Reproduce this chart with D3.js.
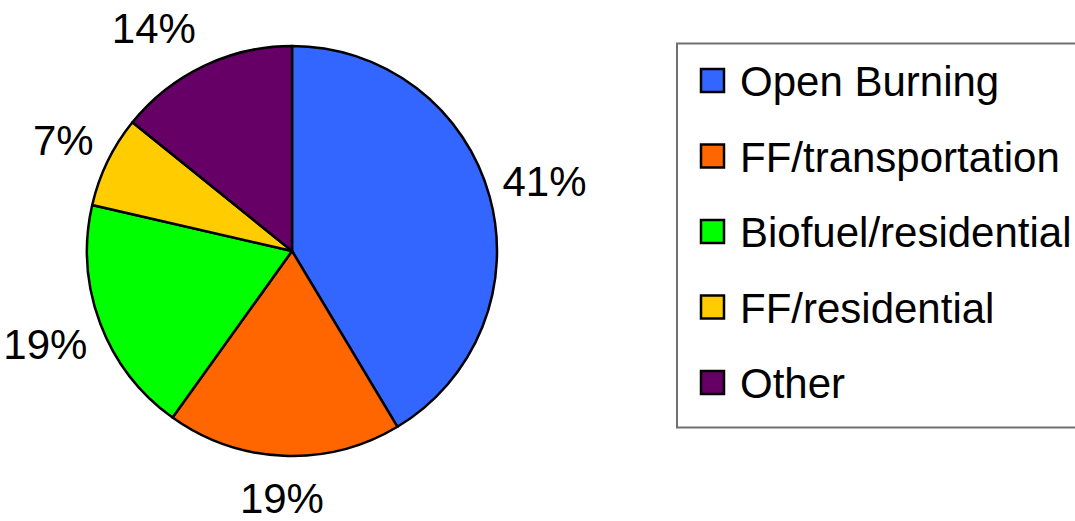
<!DOCTYPE html>
<html>
<head>
<meta charset="utf-8">
<script src="https://cdn.jsdelivr.net/npm/d3@7"></script>
<style>
  body { margin: 0; background: #fff; }
  svg { display: block; font-family: "Liberation Sans", Arial, sans-serif; }
</style>
</head>
<body>
<svg width="1075" height="521"></svg>
<script>
// sector shares (percent)
var categories = ["Open Burning", "FF/transportation", "Biofuel/residential", "FF/residential", "Other"];
var values = [41.4, 18.5, 18.7, 7.2, 14.2];
var labels = ["41%", "19%", "19%", "7%", "14%"];
var colors = ["#3366FF", "#FF6600", "#00FF00", "#FFCC00", "#660066"];

var cx = 292, cy = 251, radius = 205;
var fontSize = 42;
var svg = d3.select("svg");

var pie = d3.pie().sort(null).value(function(d){ return d; });
var arcs = pie(values);
var arc = d3.arc().innerRadius(0).outerRadius(radius);

var g = svg.append("g").attr("transform", "translate(" + cx + "," + cy + ")");

g.selectAll("path")
	.data(arcs)
	.enter().append("path")
	.attr("d", arc)
	.attr("fill", function(d, i){ return colors[i]; })
	.attr("stroke", "#000")
	.attr("stroke-width", 2.5)
	.attr("stroke-linejoin", "round");

// labels sit outside the slice, pushed out by half their box in that direction
var labelR = 213;
var boxHalfH = 32;
var minTop = 28 - cy; // keep labels inside the top of the chart area

function labelDist(a, w){
	return labelR + (w / 2) * Math.abs(Math.sin(a)) + boxHalfH * Math.abs(Math.cos(a));
}

var texts = g.selectAll("text")
	.data(arcs)
	.enter().append("text")
	.attr("text-anchor", "middle")
	.attr("dy", "0.36em")
	.attr("font-size", fontSize)
	.text(function(d, i){ return labels[i]; });

texts.each(function(d){
	var a = (d.startAngle + d.endAngle) / 2;
	var w = this.getComputedTextLength();
	var dist = labelDist(a, w);
	var x = dist * Math.sin(a), y = -dist * Math.cos(a);
	if (y < minTop) {
		// slide the label round the pie until it fits under the top edge
		for (var k = 0; k < 4; k++) {
			var c = Math.min(1, -minTop / dist);
			a = (Math.sin(a) < 0 ? -1 : 1) * Math.acos(c);
			dist = labelDist(a, w);
		}
		x = dist * Math.sin(a);
		y = minTop;
	}
	d3.select(this).attr("x", x).attr("y", y);
});

// legend
var legend = svg.append("g");
legend.append("rect")
	.attr("x", 677)
	.attr("y", 43.5)
	.attr("width", 420)
	.attr("height", 384)
	.attr("fill", "#fff")
	.attr("stroke", "#707070")
	.attr("stroke-width", 2);

var rowY = d3.scalePoint().domain(categories).range([81, 383]);

var rows = legend.selectAll("g.row")
	.data(categories)
	.enter().append("g")
	.attr("class", "row")
	.attr("transform", function(d){ return "translate(0," + rowY(d) + ")"; });

rows.append("rect")
	.attr("x", 701)
	.attr("y", -12)
	.attr("width", 23)
	.attr("height", 23)
	.attr("fill", function(d, i){ return colors[i]; })
	.attr("stroke", "#000")
	.attr("stroke-width", 2.5);

rows.append("text")
	.attr("x", 740)
	.attr("dy", "0.36em")
	.attr("font-size", fontSize)
	.text(function(d){ return d; });
</script>
</body>
</html>
